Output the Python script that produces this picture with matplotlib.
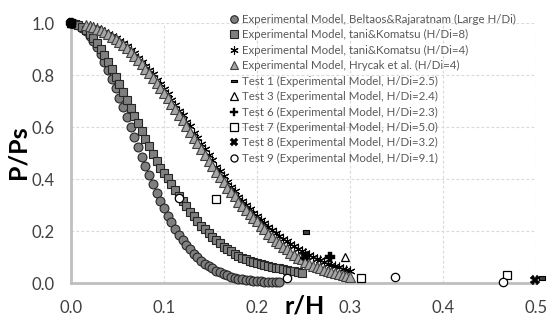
import matplotlib
matplotlib.use("Agg")
import matplotlib.pyplot as plt
from matplotlib.path import Path

plt.rcParams['font.family'] = ['Lato', 'DejaVu Sans']

# ---- data ----
beltaos_r = [0.000,0.004,0.008,0.012,0.016,0.020,0.024,0.028,0.032,0.036,0.040,0.044,0.048,0.052,0.056,0.060,
             0.064,0.068,0.072,0.076,0.080,0.084,0.088,0.092,0.096,0.100,0.104,0.108,0.112,0.116,0.120,0.124,
             0.128,0.132,0.136,0.140,0.144,0.148,0.152,0.156,0.160,0.164,0.168,0.172,0.176,0.180,0.184,0.188,
             0.192,0.196,0.200,0.204,0.208,0.212,0.216,0.220,0.224]
beltaos_p = [1.000,0.998,0.992,0.982,0.969,0.951,0.931,0.907,0.880,0.850,0.819,0.785,0.750,0.713,0.676,0.638,
             0.599,0.561,0.523,0.486,0.449,0.414,0.380,0.347,0.316,0.287,0.259,0.233,0.208,0.186,0.165,0.146,
             0.129,0.113,0.099,0.086,0.075,0.065,0.056,0.048,0.041,0.035,0.029,0.025,0.021,0.017,0.015,0.012,
             0.010,0.008,0.007,0.006,0.004,0.004,0.003,0.002,0.002]

tani8_r = [0.000,0.004,0.008,0.012,0.016,0.020,0.024,0.028,0.032,0.036,0.040,0.044,0.048,0.052,0.056,0.060,
           0.064,0.068,0.072,0.076,0.080,0.084,0.088,0.092,0.096,0.100,0.104,0.108,0.112,0.116,0.120,0.124,
           0.128,0.132,0.136,0.140,0.144,0.148,0.152,0.156,0.160,0.164,0.168,0.172,0.176,0.180,0.184,0.188,
           0.192,0.196,0.200,0.204,0.208,0.212,0.216,0.220,0.224,0.228,0.232,0.236,0.240,0.244,0.248]
tani8_p = [1.000,0.998,0.993,0.985,0.973,0.959,0.942,0.922,0.900,0.876,0.849,0.822,0.794,0.765,0.735,0.705,
           0.675,0.644,0.614,0.584,0.555,0.526,0.498,0.471,0.444,0.423,0.403,0.380,0.358,0.336,0.316,0.295,
           0.274,0.257,0.239,0.221,0.207,0.191,0.177,0.165,0.152,0.140,0.131,0.122,0.113,0.104,0.097,0.091,
           0.086,0.081,0.077,0.073,0.069,0.066,0.062,0.059,0.056,0.053,0.050,0.047,0.045,0.042,0.040]

tani4_r = [0.020,0.024,0.028,0.032,0.036,0.040,0.044,0.048,0.052,0.056,0.060,0.064,0.068,0.072,0.076,0.080,
           0.084,0.088,0.092,0.096,0.100,0.104,0.108,0.112,0.116,0.120,0.124,0.128,0.132,0.136,0.140,0.144,
           0.148,0.152,0.156,0.160,0.164,0.168,0.172,0.176,0.180,0.184,0.188,0.192,0.196,0.200,0.204,0.208,
           0.212,0.216,0.220,0.224,0.228,0.232,0.236,0.240,0.244,0.248,0.252,0.256,0.260,0.264,0.268,0.272,
           0.276,0.280,0.284,0.288,0.292,0.296,0.300]
tani4_p = [0.990,0.985,0.980,0.974,0.967,0.959,0.951,0.942,0.932,0.922,0.911,0.897,0.883,0.867,0.851,0.836,
           0.818,0.802,0.782,0.765,0.745,0.727,0.705,0.686,0.663,0.645,0.621,0.602,0.578,0.558,0.534,0.515,
           0.491,0.472,0.448,0.430,0.412,0.388,0.371,0.354,0.332,0.316,0.301,0.286,0.271,0.257,0.243,0.230,
           0.217,0.205,0.193,0.182,0.171,0.160,0.150,0.141,0.132,0.124,0.115,0.108,0.100,0.094,0.087,0.081,
           0.075,0.070,0.064,0.060,0.055,0.051,0.047]

hrycak_r = [0.016,0.020,0.024,0.028,0.032,0.036,0.040,0.044,0.048,0.052,0.056,0.060,0.064,0.068,0.072,0.076,
            0.080,0.084,0.088,0.092,0.096,0.100,0.104,0.108,0.112,0.116,0.120,0.124,0.128,0.132,0.136,0.140,
            0.144,0.148,0.152,0.156,0.160,0.164,0.168,0.172,0.176,0.180,0.184,0.188,0.192,0.196,0.200,0.204,
            0.208,0.212,0.216,0.220,0.224,0.228,0.232,0.236,0.240,0.244,0.248,0.252,0.256,0.260,0.264,0.268,
            0.272,0.276,0.280,0.284,0.288,0.292,0.296,0.300]
hrycak_p = [0.993,0.989,0.984,0.978,0.972,0.964,0.956,0.947,0.938,0.927,0.916,0.904,0.890,0.875,0.858,0.841,
            0.825,0.806,0.790,0.769,0.751,0.730,0.711,0.688,0.669,0.646,0.626,0.602,0.582,0.558,0.538,0.514,
            0.494,0.470,0.451,0.427,0.408,0.390,0.367,0.350,0.333,0.311,0.296,0.280,0.265,0.251,0.237,0.219,
            0.206,0.190,0.178,0.163,0.152,0.139,0.129,0.117,0.109,0.098,0.091,0.081,0.075,0.067,0.062,0.057,
            0.050,0.046,0.042,0.037,0.033,0.030,0.028,0.025]

test1_r = [0.0, 0.253, 0.506]
test1_p = [1.0, 0.195, 0.018]
test3_r = [0.0, 0.295]
test3_p = [1.0, 0.101]
test6_r = [0.0, 0.278]
test6_p = [1.0, 0.099]
test7_r = [0.0, 0.156, 0.312, 0.469]
test7_p = [1.0, 0.323, 0.018, 0.031]
test8_r = [0.0, 0.252, 0.499]
test8_p = [1.0, 0.105, 0.012]
test9_r = [0.0, 0.116, 0.232, 0.348, 0.465]
test9_p = [1.0, 0.326, 0.018, 0.024, 0.005]

labels = [
    "Experimental Model, Beltaos&Rajaratnam (Large H/Di)",
    "Experimental Model, tani&Komatsu (H/Di=8)",
    "Experimental Model, tani&Komatsu (H/Di=4)",
    "Experimental Model, Hrycak et al. (H/Di=4)",
    "Test 1 (Experimental Model, H/Di=2.5)",
    "Test 3 (Experimental Model, H/Di=2.4)",
    "Test 6 (Experimental Model, H/Di=2.3)",
    "Test 7 (Experimental Model, H/Di=5.0)",
    "Test 8 (Experimental Model, H/Di=3.2)",
    "Test 9 (Experimental Model, H/Di=9.1)",
]
xticks = [0.0, 0.1, 0.2, 0.3, 0.4, 0.5]
yticks = [0.0, 0.2, 0.4, 0.6, 0.8, 1.0]

# ---- figure ----
fig = plt.figure(figsize=(5.47, 3.18), dpi=100)
ax = fig.add_axes([71/547, 35/318, 465/547, 260/318])

dash_marker = Path([(-1, -0.45), (1, -0.45), (1, 0.45), (-1, 0.45), (-1, -0.45)],
                   [Path.MOVETO, Path.LINETO, Path.LINETO, Path.LINETO, Path.CLOSEPOLY])

common = dict(linestyle='none', clip_on=False)
ax.plot(beltaos_r, beltaos_p, marker='o', ms=6.4, mfc='#7f7f7f', mec='#262626', mew=0.8, label=labels[0], zorder=3, **common)
ax.plot(tani8_r, tani8_p, marker='s', ms=6.0, mfc='#7f7f7f', mec='#262626', mew=0.8, label=labels[1], zorder=3, **common)
ax.plot(tani4_r, tani4_p, marker=(6, 2, 0), ms=7.0, mfc='black', mec='black', mew=0.8, label=labels[2], zorder=3, **common)
ax.plot(hrycak_r, hrycak_p, marker='^', ms=6.6, mfc='#a6a6a6', mec='#404040', mew=0.8, label=labels[3], zorder=3, **common)
ax.plot(test1_r, test1_p, marker=dash_marker, ms=5.0, mfc='#404040', mec='black', mew=0.8, label=labels[4], zorder=5, **common)
ax.plot(test3_r, test3_p, marker='^', ms=6.0, mfc='white', mec='black', mew=0.9, label=labels[5], zorder=4, **common)
ax.plot(test6_r, test6_p, marker='P', ms=6.5, mfc='black', mec='black', mew=0.3, label=labels[6], zorder=5, **common)
ax.plot(test7_r, test7_p, marker='s', ms=6.0, mfc='white', mec='black', mew=0.9, label=labels[7], zorder=4, **common)
ax.plot(test8_r, test8_p, marker='X', ms=6.5, mfc='black', mec='black', mew=0.3, label=labels[8], zorder=5, **common)
ax.plot(test9_r, test9_p, marker='o', ms=6.0, mfc='white', mec='black', mew=0.9, label=labels[9], zorder=4, **common)

ax.set_xlim(0, 0.5)
ax.set_ylim(0, 1.0)
ax.set_xticks(xticks)
ax.set_yticks(yticks)
ax.set_xticklabels([f"{v:.1f}" for v in xticks])
ax.set_yticklabels([f"{v:.1f}" for v in yticks])
ax.tick_params(axis='both', length=0, labelsize=12, labelcolor='#404040')
ax.tick_params(axis='x', pad=12)
ax.tick_params(axis='y', pad=12)

ax.grid(True, linestyle=(0, (2.5, 2)), color='#d9d9d9', linewidth=0.8)
ax.set_axisbelow(True)
for s in ['top', 'right']:
    ax.spines[s].set_visible(False)
for s in ['left', 'bottom']:
    ax.spines[s].set_color('#bfbfbf')
    ax.spines[s].set_linewidth(2.0)

fig.text(305/547, 1 - 306/318, "r/H", ha='center', va='center', fontsize=18, fontweight='bold', color='black')
fig.text(18/547, 1 - 152/318, "P/Ps", ha='center', va='center', rotation=90, fontsize=18, fontweight='bold', color='black')

leg = ax.legend(loc='upper left', bbox_to_anchor=((229 - 71)/465, (283 - 14)/260), frameon=False,
                fontsize=8.3, handlelength=0.9, handletextpad=0.25, borderpad=0, borderaxespad=0,
                labelspacing=0.38, markerscale=0.85)
for t in leg.get_texts():
    t.set_color('#595959')

fig.savefig("out.png", dpi=100)
